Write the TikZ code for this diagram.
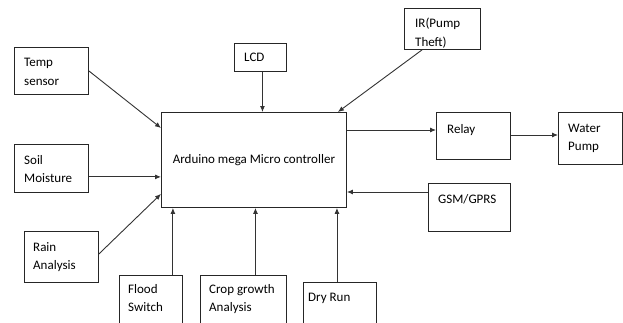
\documentclass[tikz,border=0pt]{standalone}
\usepackage{fontspec}
\setmainfont{Carlito}
\usetikzlibrary{arrows.meta,calc}
\tikzset{
  box/.style={draw=black!85, line width=0.9pt, rectangle, anchor=north west, inner sep=0pt},
  lbl/.style={anchor=north west, inner sep=0pt, align=left, font=\fontsize{13}{18.5}\selectfont, text=black},
  conn/.style={draw=black!80, line width=0.9pt, -{Latex[length=6pt,width=5pt]}}
}
\begin{document}
\begin{tikzpicture}[x=1pt,y=-1pt]
\useasboundingbox (0,0) rectangle (623,322);
\clip (0,0) rectangle (623,322);
% main controller
\node[box, minimum width=185pt, minimum height=95pt, font=\fontsize{13}{18.5}\selectfont, text=black] (main) at (161,112) {Arduino mega Micro controller};
% boxes
\node[box, minimum width=74pt, minimum height=47pt] (temp) at (14,47) {};
\node[box, minimum width=52pt, minimum height=28pt] (lcd) at (234,43) {};
\node[box, minimum width=76pt, minimum height=41pt] (ir) at (404,8) {};
\node[box, minimum width=74pt, minimum height=47pt] (relay) at (436,112) {};
\node[box, minimum width=64pt, minimum height=52pt] (water) at (558,112) {};
\node[box, minimum width=74pt, minimum height=48pt] (soil) at (14,144) {};
\node[box, minimum width=74pt, minimum height=51pt] (rain) at (24,231) {};
\node[box, minimum width=82pt, minimum height=48pt] (gsm) at (428,183) {};
\node[box, minimum width=63pt, minimum height=70pt] (flood) at (119,275) {};
\node[box, minimum width=86pt, minimum height=70pt] (crop) at (200,275) {};
\node[box, minimum width=73pt, minimum height=70pt] (dry) at (303,282) {};
% labels
\node[lbl] (tempT) at ($(temp.north west)+(10,11)$) {Temp\\sensor};
\node[lbl] (lcdT) at ($(lcd.north west)+(10,10)$) {LCD};
\node[lbl] (irT) at ($(ir.north west)+(11,10)$) {IR(Pump\\Theft)};
\node[lbl] (relayT) at ($(relay.north west)+(11,12)$) {Relay};
\node[lbl] (waterT) at ($(water.north west)+(10,11.5)$) {Water\\Pump};
\node[lbl] (soilT) at ($(soil.north west)+(10,11)$) {Soil\\Moisture};
\node[lbl] (rainT) at ($(rain.north west)+(9,11)$) {Rain\\Analysis};
\node[lbl] (gsmT) at ($(gsm.north west)+(10,11)$) {GSM/GPRS};
\node[lbl] (floodT) at ($(flood.north west)+(9,9)$) {Flood\\Switch};
\node[lbl] (cropT) at ($(crop.north west)+(9,9)$) {Crop growth\\Analysis};
\node[lbl] (dryT) at ($(dry.north west)+(5,11)$) {Dry Run};
% connector end points
\coordinate (tempIn) at ($(main.north west)+(0,16)$);
\coordinate (lcdOut) at ($(lcd.south)+(2,0)$);
\coordinate (irOut) at ($(ir.south west)+(18,0)$);
\coordinate (irIn) at ($(main.north east)+(-9,0)$);
\coordinate (mainOut) at ($(main.north east)+(0,18)$);
\coordinate (relayOut) at ($(relay.north east)+(0,23)$);
\coordinate (soilOut) at ($(soil.south east)+(0,-16)$);
\coordinate (rainOut) at ($(rain.east)+(0,-3)$);
\coordinate (rainIn) at ($(main.south west)+(0,-14)$);
\coordinate (gsmOut) at ($(gsm.north west)+(0,9)$);
\coordinate (floodOut) at ($(flood.north east)+(-10,0)$);
\coordinate (cropOut) at ($(crop.north)+(12,0)$);
\coordinate (dryOut) at ($(dry.north)+(-3,0)$);
% connectors
\draw[conn] (temp.east) -- (tempIn);
\draw[conn] (lcdOut) -- (lcdOut |- main.north);
\draw[conn] (irOut) -- (irIn);
\draw[conn] (mainOut) -- (mainOut -| relay.west);
\draw[conn] (relayOut) -- (relayOut -| water.west);
\draw[conn] (soilOut) -- (soilOut -| main.west);
\draw[conn] (rainOut) -- (rainIn);
\draw[conn] (gsmOut) -- (gsmOut -| main.east);
\draw[conn] (floodOut) -- (floodOut |- main.south);
\draw[conn] (cropOut) -- (cropOut |- main.south);
\draw[conn] (dryOut) -- (dryOut |- main.south);
\end{tikzpicture}
\end{document}
